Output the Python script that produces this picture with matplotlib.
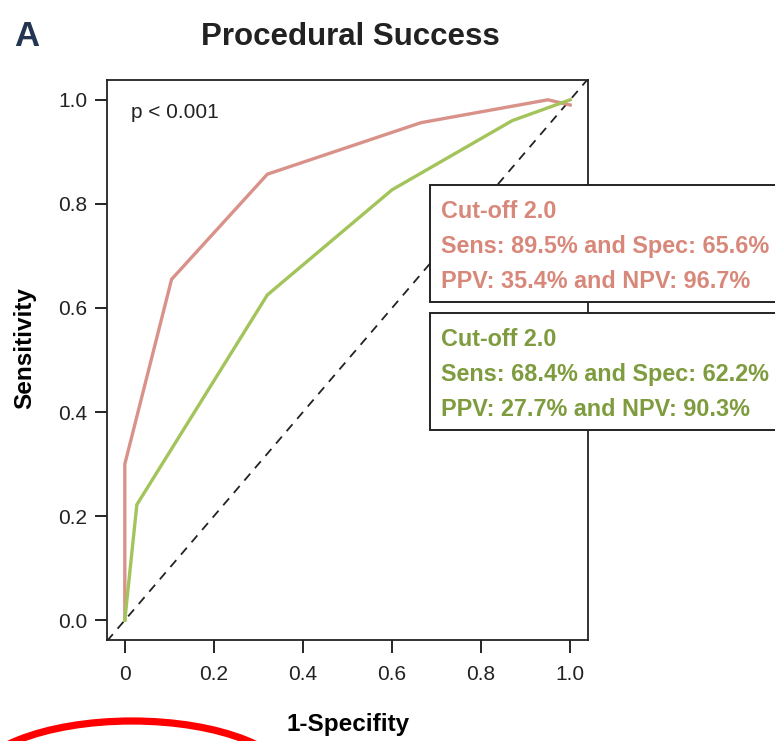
import matplotlib
matplotlib.use("Agg")
import matplotlib.pyplot as plt
from matplotlib.patches import Rectangle, Ellipse

# ROC curves (1-specificity, sensitivity)
red_fpr = [0.0, 0.0, 0.105, 0.32, 0.665, 0.95, 1.0]
red_tpr = [0.0, 0.30, 0.655, 0.857, 0.956, 1.0, 0.99]
green_fpr = [0.0, 0.027, 0.32, 0.60, 0.87, 1.0]
green_tpr = [0.0, 0.222, 0.625, 0.827, 0.96, 1.0]

xticks = [0, 0.2, 0.4, 0.6, 0.8, 1.0]
xtick_labels = ["0", "0.2", "0.4", "0.6", "0.8", "1.0"]
yticks = [0.0, 0.2, 0.4, 0.6, 0.8, 1.0]
ytick_labels = ["0.0", "0.2", "0.4", "0.6", "0.8", "1.0"]

red_box = ["Cut-off 2.0", "Sens: 89.5% and Spec: 65.6%", "PPV: 35.4% and NPV: 96.7%"]
green_box = ["Cut-off 2.0", "Sens: 68.4% and Spec: 62.2%", "PPV: 27.7% and NPV: 90.3%"]

RED_LINE = "#d9928a"
GREEN_LINE = "#a3c45a"
RED_TXT = "#d8887a"
GREEN_TXT = "#7e9c3e"

bold = ["Liberation Sans", "DejaVu Sans"]
plain = ["Liberation Sans", "DejaVu Sans"]

W, H = 775, 741
fig = plt.figure(figsize=(W / 100, H / 100), dpi=100)

def fx(px):
    return px / W

def fy(py):
    return 1 - py / H

ax = fig.add_axes([fx(107), fy(640), fx(588) - fx(107), fy(80) - fy(640)])

ax.plot([-0.04, 1.04], [-0.04, 1.04], color="#222222", lw=1.3, dashes=(5, 4))
ax.plot(red_fpr, red_tpr, color=RED_LINE, lw=2.4, solid_joinstyle="miter")
ax.plot(green_fpr, green_tpr, color=GREEN_LINE, lw=2.4, solid_joinstyle="miter")

ax.set_xlim(-0.04, 1.04)
ax.set_ylim(-0.038, 1.038)
ax.set_xticks(xticks)
ax.set_xticklabels(xtick_labels, family=plain, fontsize=15, color="#222222")
ax.set_yticks(yticks)
ax.set_yticklabels(ytick_labels, family=plain, fontsize=15, color="#222222")
ax.tick_params(direction="out", length=9, width=1.2, pad=5)
ax.tick_params(axis="x", pad=9)
for s in ax.spines.values():
    s.set_linewidth(1.3)
    s.set_color("#222222")

ax.text(0.013, 0.975, "p < 0.001", family=plain, fontsize=15, color="#222222",
        va="center", ha="left")

ax.set_xlabel("1-Specifity", family=bold, fontsize=17.5, fontweight="bold", va="center")
ax.set_ylabel("Sensitivity", family=bold, fontsize=17.5, fontweight="bold", va="center")
ax.xaxis.set_label_coords((348 - 107) / 481, (640 - 724) / 560)
ax.yaxis.set_label_coords((25 - 107) / 481, (640 - 348) / 560)

fig.text(fx(350), fy(37), "Procedural Success", family=bold, fontsize=22.5,
         fontweight="bold", ha="center", va="center", color="#222222")
fig.text(fx(14), fy(37), "A", family=bold, fontsize=25, fontweight="bold",
         ha="left", va="center", color="#243552")

# annotation boxes reaching past the right edge
for top, bottom, lines, col in [(185, 302, red_box, RED_TXT), (313, 430, green_box, GREEN_TXT)]:
    fig.add_artist(Rectangle((fx(430), fy(bottom)), fx(800) - fx(430), fy(top) - fy(bottom),
                             transform=fig.transFigure, facecolor="white",
                             edgecolor="#222222", lw=1.4, clip_on=False))
    for i, t in enumerate(lines):
        fig.text(fx(441), fy(top + 27 + i * 34.5), t, family=bold, fontsize=16.8,
                 fontweight="bold", color=col, ha="left", va="center")

# red marker circle at the bottom left
fig.add_artist(Ellipse((fx(132), fy(786)), 322 / W, 130 / H, transform=fig.transFigure,
                       fill=False, edgecolor="#ff0000", lw=5.2, clip_on=False))

fig.savefig("out.png", dpi=100)
